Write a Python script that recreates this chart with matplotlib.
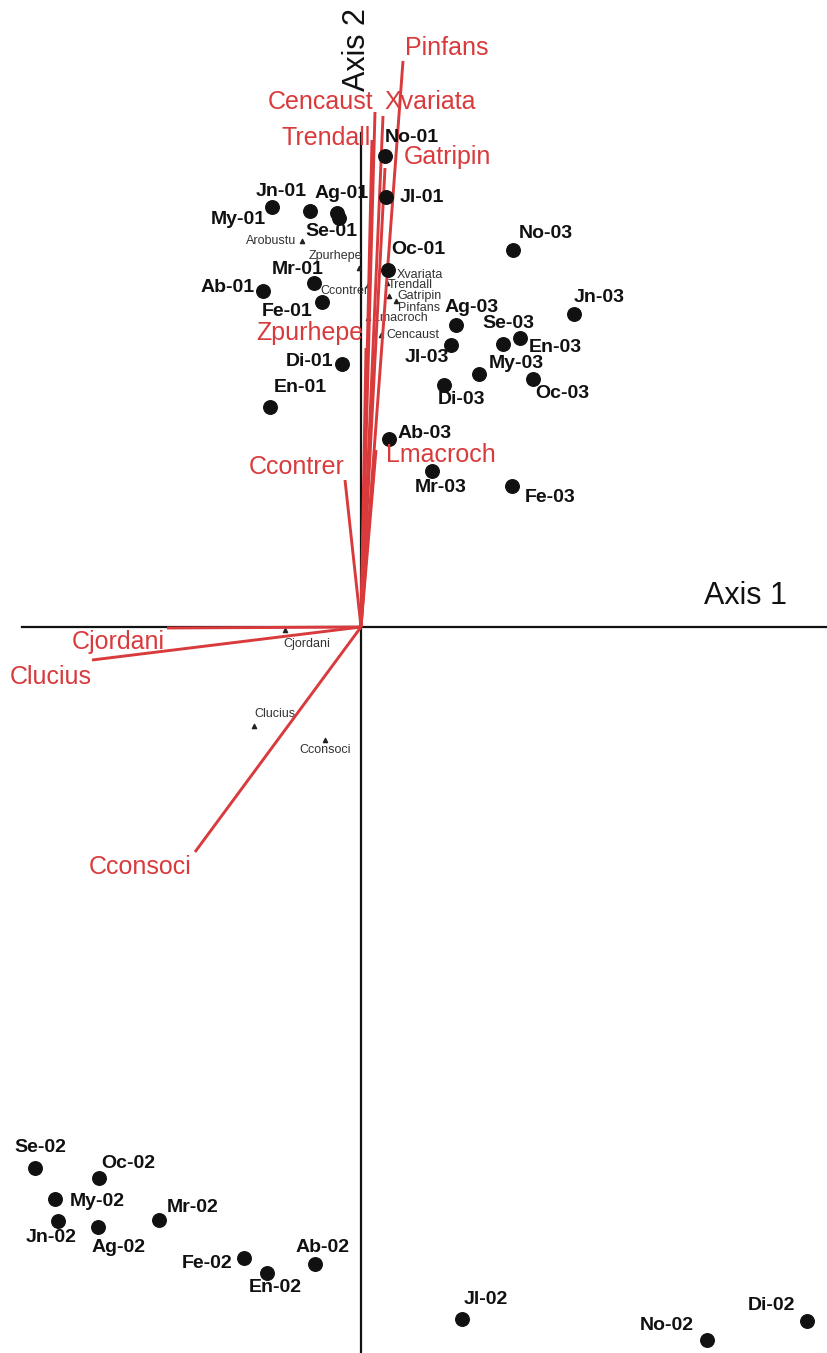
import matplotlib
matplotlib.use("Agg")
import matplotlib.pyplot as plt

plt.rcParams['font.family'] = ['Liberation Sans', 'DejaVu Sans']

# ---- site scores (axis 1, axis 2) ----
site_names = ["My-01", "Jn-01", "Ag-01", "Se-01", "No-01", "Jl-01", "Oc-01", "Mr-01",
              "Ab-01", "Fe-01", "Di-01", "En-01",
              "No-03", "Jn-03", "Ag-03", "Jl-03", "Se-03", "En-03", "My-03", "Oc-03",
              "Di-03", "Ab-03", "Mr-03", "Fe-03",
              "Se-02", "Oc-02", "My-02", "Jn-02", "Ag-02", "Mr-02", "Fe-02", "En-02",
              "Ab-02", "Jl-02", "No-02", "Di-02"]
site_ax1 = [-0.89, -0.51, -0.24, -0.22, 0.24, 0.25, 0.27, -0.47, -0.98, -0.39, -0.19, -0.91,
            1.52, 2.13, 0.95, 0.90, 1.42, 1.59, 1.18, 1.72, 0.83, 0.28, 0.71, 1.51,
            -3.26, -2.62, -3.06, -3.03, -2.63, -2.02, -1.17, -0.94, -0.46, 1.01, 3.46, 4.46]
site_ax2 = [4.20, 4.16, 4.14, 4.09, 4.71, 4.30, 3.57, 3.44, 3.36, 3.25, 2.63, 2.20,
            3.77, 3.13, 3.02, 2.82, 2.83, 2.89, 2.53, 2.48, 2.42, 1.88, 1.56, 1.41,
            -5.41, -5.51, -5.72, -5.94, -6.00, -5.93, -6.31, -6.46, -6.37, -6.92, -7.13, -6.94]

# ---- species: biplot vector tips ----
vec_names = ["Pinfans", "Xvariata", "Cencaust", "Trendall", "Gatripin", "Zpurhepe",
             "Lmacroch", "Ccontrer", "Cjordani", "Clucius", "Cconsoci"]
vec_ax1 = [0.42, 0.22, 0.14, 0.11, 0.24, 0.05, 0.15, -0.16, -1.94, -2.69, -1.66]
vec_ax2 = [5.66, 5.11, 5.15, 4.87, 4.59, 2.79, 1.77, 1.47, -0.01, -0.33, -2.25]

# ---- species scores (triangles) ----
spp_names = ["Arobustu", "Zpurhepe", "Ccontrer", "Xvariata", "Trendall", "Gatripin",
             "Pinfans", "Lmacroch", "Cencaust", "Cjordani", "Clucius", "Cconsoci"]
spp_ax1 = [-0.59, -0.02, 0.07, 0.30, 0.26, 0.28, 0.35, 0.07, 0.20, -0.76, -1.07, -0.36]
spp_ax2 = [3.86, 3.59, 3.42, 3.55, 3.44, 3.31, 3.26, 3.09, 2.92, -0.03, -0.99, -1.13]

# label offsets in pixels (right, up)
site_off = {
    "My-01": (-34, -13), "Jn-01": (-29, 19), "Ag-01": (5, 19), "Se-01": (-8, -14),
    "No-01": (27, 19), "Jl-01": (36, -1), "Oc-01": (30, 20), "Mr-01": (-16, 13),
    "Ab-01": (-35, 4), "Fe-01": (-35, -10), "Di-01": (-32, 2), "En-01": (30, 20),
    "No-03": (33, 17), "Jn-03": (25, 16), "Ag-03": (16, 18), "Jl-03": (-24, -12),
    "Se-03": (5, 21), "En-03": (35, -10), "My-03": (37, 11), "Oc-03": (29, -14),
    "Di-03": (18, -15), "Ab-03": (36, 6), "Mr-03": (9, -16), "Fe-03": (38, -11),
    "Se-02": (5, 21), "Oc-02": (29, 15), "My-02": (42, -2), "Jn-02": (-7, -17),
    "Ag-02": (21, -20), "Mr-02": (34, 12), "Fe-02": (-37, -5), "En-02": (8, -14),
    "Ab-02": (8, 16), "Jl-02": (24, 20), "No-02": (-40, 15), "Di-02": (-36, 15),
}
vec_off = {
    "Pinfans": (44, 13), "Xvariata": (47, 14), "Cencaust": (-54, 10),
    "Trendall": (-46, 2), "Gatripin": (62, 11), "Zpurhepe": (-56, 15),
    "Lmacroch": (65, -5), "Ccontrer": (-48, 13), "Cjordani": (-49, -14),
    "Clucius": (-41, -17), "Cconsoci": (-55, -15),
}
spp_off = {
    "Arobustu": (-31, 0), "Zpurhepe": (-24, 12), "Ccontrer": (-24, -6),
    "Xvariata": (29, -3), "Trendall": (23, -2), "Gatripin": (31, 0),
    "Pinfans": (23, -7), "Lmacroch": (32, 0), "Cencaust": (32, 0),
    "Cjordani": (22, -14), "Clucius": (21, 12), "Cconsoci": (0, -10),
}

RED = "#d93a3c"

fig = plt.figure(figsize=(8.28, 13.53), dpi=100)
ax = fig.add_axes([0, 0, 1, 1])
ax.set_xlim(-3.61, 4.67)
ax.set_ylim(-7.26, 6.27)
ax.axis("off")

# ordination axes
ax.plot([-3.39, 4.67], [0, 0], color="#111111", lw=1.6, zorder=1)
ax.plot([0, 0], [-7.26, 4.94], color="#111111", lw=1.6, zorder=1)
ax.text(3.85, 0.31, "Axis 1", fontsize=22, ha="center", va="center", color="#111111")
ax.text(-0.04, 5.77, "Axis 2", fontsize=22, ha="center", va="center",
        rotation=90, color="#111111")

# species scores
ax.scatter(spp_ax1, spp_ax2, marker="^", s=9, color="#222222", zorder=2)
for n, x, y in zip(spp_names, spp_ax1, spp_ax2):
    ax.annotate(n, (x, y), xytext=spp_off[n], textcoords="offset pixels",
                ha="center", va="center", fontsize=9, color="#333333", zorder=2)

# species vectors
for n, x, y in zip(vec_names, vec_ax1, vec_ax2):
    ax.plot([0, x], [0, y], color=RED, lw=2.1, solid_capstyle="butt", zorder=3)
    ax.annotate(n, (x, y), xytext=vec_off[n], textcoords="offset pixels",
                ha="center", va="center", fontsize=18, color=RED, zorder=5)

# sites
ax.scatter(site_ax1, site_ax2, s=95, color="#111111", zorder=4)
for n, x, y in zip(site_names, site_ax1, site_ax2):
    ax.annotate(n, (x, y), xytext=site_off[n], textcoords="offset pixels",
                ha="center", va="center", fontsize=14, fontweight="bold",
                color="#111111", zorder=5)

fig.savefig("out.png", dpi=100, facecolor="white")
